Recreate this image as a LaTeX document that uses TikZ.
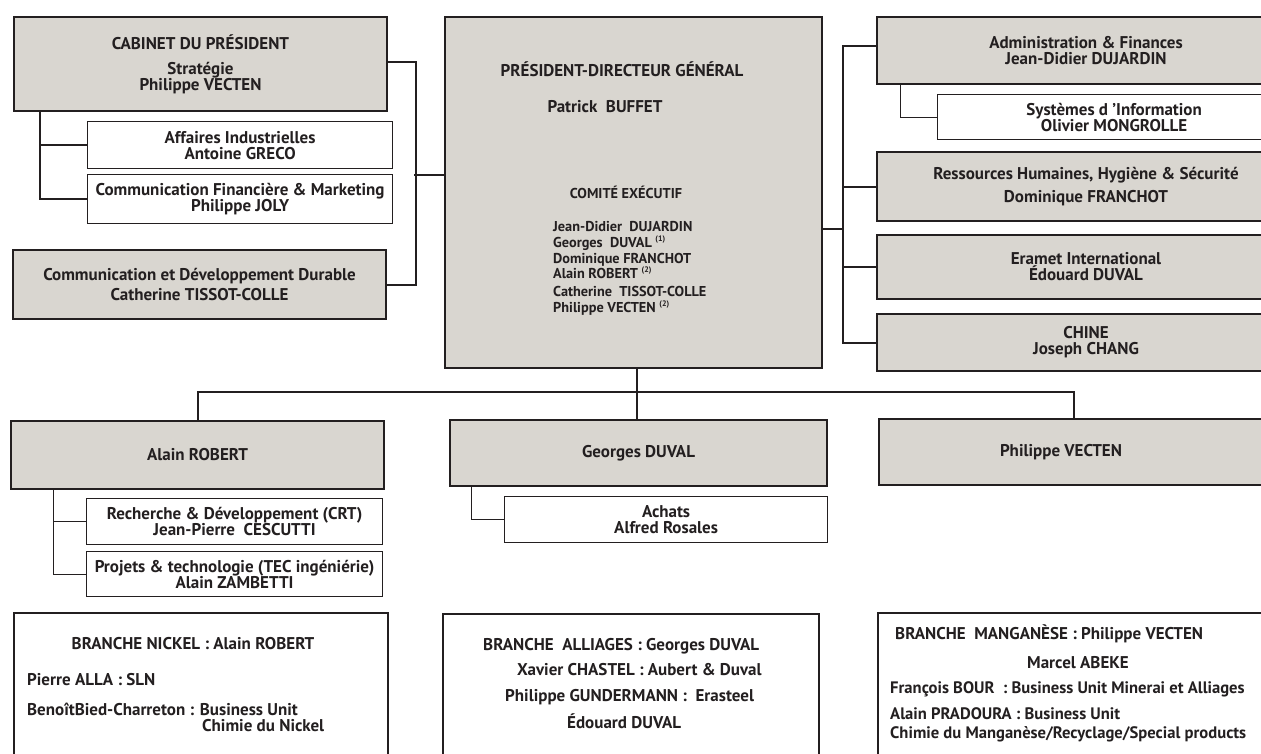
\documentclass[tikz,border=0pt]{standalone}
\usepackage{fontspec}
\setmainfont{PT Sans}
\usetikzlibrary{positioning}
\definecolor{boxgrey}{RGB}{217,214,208}
\definecolor{ink}{RGB}{35,31,32}
\tikzset{grey node/.style={draw=ink,line width=2pt,fill=boxgrey,text=ink,anchor=north west,inner sep=0pt,align=center,font=\bfseries\fontsize{17}{16}\selectfont},
  white node/.style={grey node,fill=white,line width=1.2pt},
  branch node/.style={grey node,fill=white},
  boxsize/.style 2 args={minimum width=#1pt,minimum height=#2pt},
  label text/.style={text=ink,inner sep=0pt,anchor=base west,font=\bfseries\fontsize{17}{16}\selectfont},
  member text/.style={label text,font=\bfseries\fontsize{14.3}{15}\selectfont},
  narrow text/.style={label text,font=\bfseries\fontsize{16.6}{15}\selectfont},
  link/.style={draw=ink,line width=2pt},
  sub link/.style={draw=ink,line width=1pt},
}
\newcommand{\callnote}[1]{\textsuperscript{\fontsize{8}{9}\selectfont(#1)}}

\begin{document}
\begin{tikzpicture}[x=1pt,y=-1pt]
\useasboundingbox (0,0) rectangle (1261,753);
\clip (0,0) rectangle (1261,753);

%% left column
\node[grey node,boxsize={373}{94}] (cabinet) at (13,16) {CABINET DU PRÉSIDENT\\[9pt]Stratégie\\Philippe VECTEN};
\node[white node,boxsize={305}{47}] (industriel) at (87,121) {Affaires Industrielles\\Antoine GRECO};
\node[white node,boxsize={305}{49}] (comfin) at (87,174) {Communication Financière \& Marketing\\Philippe JOLY};
\node[grey node,boxsize={373}{69}] (durable) at (12,249) {Communication et Développement Durable\\[4pt]Catherine TISSOT-COLLE};

%% president
\node[grey node,boxsize={377}{351}] (pdg) at (444,16) {};
\node[label text,anchor=base,font=\bfseries\fontsize{17}{18}\selectfont] (pdgtitle) at (622,76) {PRÉSIDENT-DIRECTEUR GÉNÉRAL};
\node[label text,anchor=base] (pdgname) at (605,112) {Patrick~ BUFFET};
\node[member text,anchor=base] (comex) at (626,198) {COMITÉ EXÉCUTIF};
\foreach \y/\who [count=\i] in {231/{Jean-Didier~ DUJARDIN},247/{Georges~ DUVAL \callnote{1}},263/{Dominique FRANCHOT},278/{Alain ROBERT \callnote{2}},296/{Catherine~ TISSOT-COLLE},312/{Philippe VECTEN \callnote{2}}}
  \node[member text] (member\i) at (553,\y) {\who};

%% right column
\node[grey node,boxsize={418}{67}] (admin) at (876,16) {Administration \& Finances\\Jean-Didier DUJARDIN};
\node[white node,boxsize={353}{45}] (sysinfo) at (937,94) {Systèmes d ’Information\\Olivier MONGROLLE};
\node[grey node,boxsize={418}{69}] (rh) at (876,151) {Ressources Humaines, Hygiène \& Sécurité\\[7pt]Dominique FRANCHOT};
\node[grey node,boxsize={418}{64}] (intl) at (876,234) {Eramet International\\Édouard DUVAL};
\node[grey node,boxsize={418}{57}] (chine) at (876,313) {CHINE\\Joseph CHANG};

%% second row
\node[grey node,boxsize={373}{68}] (robert) at (10,420) {Alain ROBERT};
\node[white node,boxsize={296}{46}] (recherche) at (86,498) {Recherche \& Développement (CRT)\\Jean-Pierre~ CESCUTTI};
\node[white node,boxsize={296}{45}] (projets) at (86,551) {Projets \& technologie (TEC ingéniérie)\\Alain ZAMBETTI};
\node[grey node,boxsize={377}{66}] (duval) at (449,419) {Georges DUVAL};
\node[white node,boxsize={323}{46}] (achats) at (504,496) {Achats\\Alfred Rosales};
\node[grey node,boxsize={440}{66}] (vecten) at (878,418) {};
\node[label text,anchor=center] (vectenname) at (1061,452) {Philippe VECTEN};

%% branches
\node[branch node,boxsize={374}{200}] (nickel) at (13,612) {};
\node[label text,anchor=base] (nickeltitle) at (193,649) {BRANCHE NICKEL : Alain ROBERT};
\node[label text] (nickelsln) at (27,685) {Pierre ALLA : SLN};
\node[label text] (nickelbu) at (27,715) {BenoîtBied-Charreton : Business Unit};
\node[label text] (nickelchimie) at (202,731) {Chimie du Nickel};

\node[branch node,boxsize={376}{200}] (alliages) at (442,613) {};
\node[label text] (alliagestitle) at (483,650) {BRANCHE~ ALLIAGES : Georges DUVAL};
\node[label text] (aubert) at (517,675) {Xavier CHASTEL : Aubert \& Duval};
\node[label text] (erasteel) at (505,701) {Philippe GUNDERMANN :~ Erasteel};
\node[label text] (edouard) at (567,728) {Édouard DUVAL};

\node[branch node,boxsize={440}{200}] (manganese) at (877,612) {};
\node[label text] (mangtitle) at (895,639) {BRANCHE~ MANGANÈSE : Philippe VECTEN};
\node[label text,anchor=base] (abeke) at (1078,668) {Marcel ABEKE};
\node[narrow text] (bour) at (890,693) {François BOUR~ : Business Unit Minerai et Alliages};
\node[narrow text] (pradoura) at (890,719) {Alain PRADOURA : Business Unit};
\node[narrow text] (pradoura2) at (890,738) {Chimie du Manganèse/Recyclage/Special products};

%% connectors
\draw[link] ([xshift=27pt]cabinet.south west) |- (industriel.west);
\draw[link] ([xshift=27pt]cabinet.south west) |- (comfin.west);
\draw[link] ([yshift=2pt]cabinet.east) -- ++(28,0) |- (durable.east);
\coordinate (leftbus) at (414,175);
\draw[link] (leftbus) -- (leftbus -| pdg.west);

\coordinate (rightbus) at (843,229);
\draw[link] (rightbus -| pdg.east) -- (rightbus);
\draw[link] ([yshift=4.5pt]admin.west) -- ++(-33,0) |- (chine.west);
\draw[link] (rh.west) -- ++(-33,0);
\draw[link] (intl.west) -- ++(-33,0);
\draw[sub link] ([xshift=24pt]admin.south west) |- (sysinfo.west);

\coordinate (bus) at (637,392);
\draw[link] (pdg.south -| bus) -- (bus |- duval.north);
\draw[link] (robert.north) |- (bus) -| ([xshift=196pt]vecten.north west);
\draw[sub link] ([xshift=43pt]robert.south west) |- (recherche.west);
\draw[sub link] ([xshift=43pt]robert.south west) |- (projets.west);
\draw[sub link] ([xshift=22pt]duval.south west) |- (achats.west);
\end{tikzpicture}
\end{document}
